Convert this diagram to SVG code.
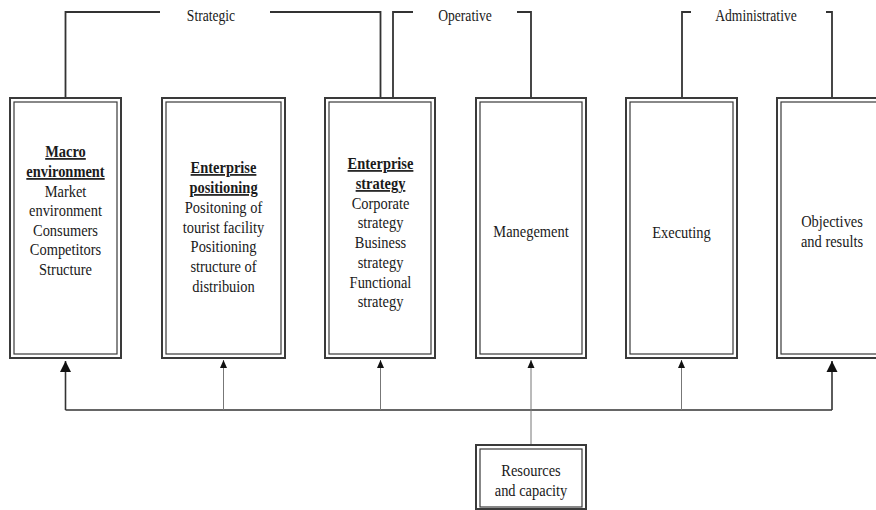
<svg xmlns="http://www.w3.org/2000/svg" width="876" height="510" viewBox="0 0 876 510">
<style>
.o{fill:#fff;stroke:#3a3a3a;stroke-width:2}
.i{fill:none;stroke:#3a3a3a;stroke-width:1.2}
.t{font-family:"Liberation Serif","Times New Roman",serif;font-size:17px;fill:#1a1a1a;text-anchor:middle}
.h{font-weight:bold;text-decoration:underline}
.lab{font-family:"Liberation Serif","Times New Roman",serif;font-size:16px;fill:#1a1a1a;text-anchor:middle}
.br{fill:none;stroke:#333;stroke-width:1.8}
.thick{fill:none;stroke:#333;stroke-width:1.6}
.thin{fill:none;stroke:#777;stroke-width:1}
</style>
<defs>
<marker id="ab" markerUnits="userSpaceOnUse" markerWidth="12" markerHeight="12" refX="6" refY="1" viewBox="0 0 12 12"><path d="M6 1 L11.5 12 L0.5 12 Z" fill="#111"/></marker>
<marker id="as" markerUnits="userSpaceOnUse" markerWidth="8" markerHeight="9" refX="4" refY="0.5" viewBox="0 0 8 9"><path d="M4 0.5 L7.5 8.5 L0.5 8.5 Z" fill="#111"/></marker>
</defs>
<g id="phases">
<path class="br" d="M65.5 98 V12 H160 M270 12 H380.5 V98"/>
<path class="br" d="M393 98 V12 H413 M517 12 H531 V98"/>
<path class="br" d="M682 98 V12 H691 M826 12 H832 V98"/>
<g transform="translate(211 0) scale(0.85 1)"><text class="lab" x="0" y="21">Strategic</text></g>
<g transform="translate(465 0) scale(0.85 1)"><text class="lab" x="0" y="21">Operative</text></g>
<g transform="translate(756 0) scale(0.85 1)"><text class="lab" x="0" y="21">Administrative</text></g>
</g>
<g id="connectors">
<path class="thick" d="M65.5 410 V361" marker-end="url(#ab)"/>
<path class="thick" d="M832 410 V361" marker-end="url(#ab)"/>
<path class="thick" d="M65.5 410 H832"/>
<path class="thin" d="M223.5 410 V360" marker-end="url(#as)"/>
<path class="thin" d="M380.5 410 V360" marker-end="url(#as)"/>
<path class="thin" d="M531 445 V360" marker-end="url(#as)"/>
<path class="thin" d="M681.5 410 V360" marker-end="url(#as)"/>
</g>
<g id="macro">
<rect class="o" x="10" y="98" width="111" height="260"/>
<rect class="i" x="14" y="102" width="103" height="252"/>
<g transform="translate(65.5 0) scale(0.85 1)">
<text class="t h" x="0" y="157">Macro</text>
<text class="t h" x="0" y="177">environment</text>
<text class="t" x="0" y="197">Market</text>
<text class="t" x="0" y="216">environment</text>
<text class="t" x="0" y="236">Consumers</text>
<text class="t" x="0" y="255">Competitors</text>
<text class="t" x="0" y="275">Structure</text>
</g>
</g>
<g id="positioning">
<rect class="o" x="162" y="98" width="123" height="260"/>
<rect class="i" x="166" y="102" width="115" height="252"/>
<g transform="translate(223.5 0) scale(0.85 1)">
<text class="t h" x="0" y="173">Enterprise</text>
<text class="t h" x="0" y="193">positioning</text>
<text class="t" x="0" y="213">Positoning of</text>
<text class="t" x="0" y="233">tourist facility</text>
<text class="t" x="0" y="252">Positioning</text>
<text class="t" x="0" y="272">structure of</text>
<text class="t" x="0" y="292">distribuion</text>
</g>
</g>
<g id="strategy">
<rect class="o" x="325" y="98" width="110" height="260"/>
<rect class="i" x="329" y="102" width="102" height="252"/>
<g transform="translate(380.5 0) scale(0.85 1)">
<text class="t h" x="0" y="169">Enterprise</text>
<text class="t h" x="0" y="189">strategy</text>
<text class="t" x="0" y="209">Corporate</text>
<text class="t" x="0" y="228">strategy</text>
<text class="t" x="0" y="248">Business</text>
<text class="t" x="0" y="268">strategy</text>
<text class="t" x="0" y="288">Functional</text>
<text class="t" x="0" y="307">strategy</text>
</g>
</g>
<g id="management">
<rect class="o" x="476" y="98" width="110" height="260"/>
<rect class="i" x="480" y="102" width="102" height="252"/>
<g transform="translate(531 0) scale(0.85 1)"><text class="t" x="0" y="237">Manegement</text></g>
</g>
<g id="executing">
<rect class="o" x="626" y="98" width="111" height="260"/>
<rect class="i" x="630" y="102" width="103" height="252"/>
<g transform="translate(681.5 0) scale(0.85 1)"><text class="t" x="0" y="238">Executing</text></g>
</g>
<g id="objectives">
<rect class="o" x="777" y="98" width="111" height="260"/>
<rect class="i" x="781" y="102" width="103" height="252"/>
<g transform="translate(832 0) scale(0.85 1)">
<text class="t" x="0" y="227">Objectives</text>
<text class="t" x="0" y="247">and results</text>
</g>
</g>
<g id="resources">
<rect class="o" x="476" y="445" width="110" height="64"/>
<rect class="i" x="480" y="449" width="102" height="58"/>
<g transform="translate(531 0) scale(0.85 1)">
<text class="t" x="0" y="476">Resources</text>
<text class="t" x="0" y="496">and capacity</text>
</g>
</g>
</svg>
